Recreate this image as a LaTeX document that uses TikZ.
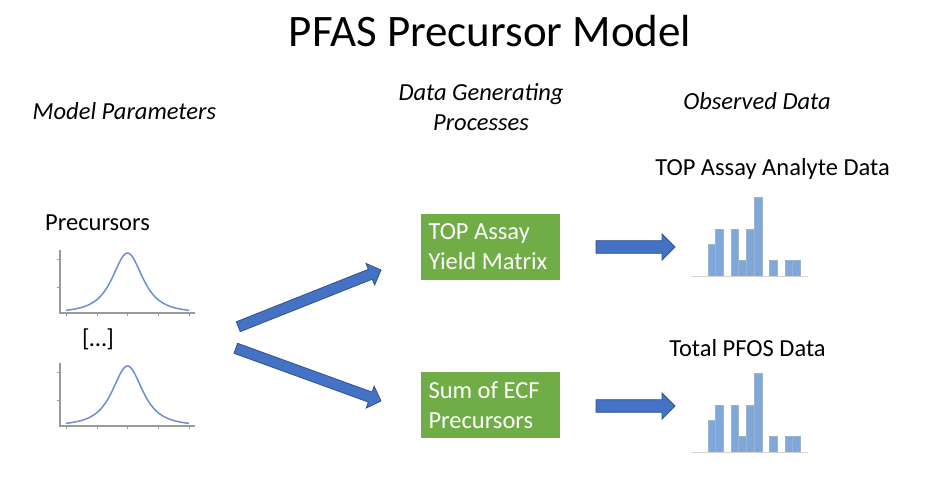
\documentclass[tikz,border=0pt]{standalone}
\usepackage{fontspec}
\setmainfont{Carlito}
\usetikzlibrary{calc}
\definecolor{gfill}{HTML}{70AD47}
\definecolor{abl}{HTML}{4472C4}
\definecolor{aline}{HTML}{2F528F}
\definecolor{curvec}{HTML}{6B8FCF}
\definecolor{axisg}{HTML}{9A9A9A}
\definecolor{barf}{HTML}{7EA7DB}
\definecolor{barl}{HTML}{9FB2CC}
\definecolor{basel}{HTML}{D4D4D4}
\newcommand\txtA{\fontsize{24.5}{30}\selectfont}
\newcommand\blockarrow[5]{%
  \coordinate (#1-#2-h) at ($(#2)!#5!(#1)$);
  \draw[arrowshape] ($(#1)!#3!90:(#2)$) -- ($(#1-#2-h)!#3!90:(#2)$) -- ($(#1-#2-h)!#4!90:(#2)$) -- (#2) -- ($(#1-#2-h)!#4!-90:(#2)$) -- ($(#1-#2-h)!#3!-90:(#2)$) -- ($(#1)!#3!-90:(#2)$) -- cycle;}
\tikzset{
  arrowshape/.style={draw=aline, line width=0.8pt, fill=abl, line join=miter},
  lbl/.style={inner sep=0pt, font=\txtA},
  gbox/.style={fill=gfill, minimum width=139pt, minimum height=66pt, inner sep=0pt},
  gtext/.style={text=white, font=\txtA, inner sep=0pt, align=left, anchor=west},
  axisline/.style={draw=axisg, line width=1.1pt},
  tickline/.style={draw=axisg, line width=0.8pt},
  curveline/.style={draw=curvec, line width=1.5pt},
  barbox/.style={fill=barf, draw=barl, line width=0.6pt},
  barbase/.style={draw=basel, line width=1pt}
}
\begin{document}
\begin{tikzpicture}[x=1pt, y=-1pt]
\useasboundingbox[fill=white] (0,0) rectangle (925,500);

% titles
\node[inner sep=0pt, font=\fontsize{45}{54}\selectfont, anchor=base] (title) at (490,47) {PFAS Precursor Model};
\node[lbl, font=\txtA\itshape, anchor=base west] (mp) at (32.5,119) {Model Parameters};
\node[lbl, font=\txtA\itshape, anchor=base] (dg1) at (481,100.5) {Data Generating};
\node[lbl, font=\txtA\itshape, anchor=base] (dg2) at (481,130.5) {Processes};
\node[lbl, font=\txtA\itshape, anchor=base] (od) at (757,110) {Observed Data};

% left side
\node[lbl, anchor=base west] (prec) at (45,230) {Precursors};
\node[lbl, anchor=center] (dots) at (98,339.5) {[…]};

% distribution plots
\foreach \dy in {0,113}{
  \begin{scope}[shift={(0,\dy)}]
    \draw[axisline] (60,250) -- (60,313) -- (195,313);
    \foreach \ty in {259,287} \draw[tickline] (57,\ty) -- (60,\ty);
    \foreach \tx in {66,97,127.5,158,189} \draw[tickline] (\tx,313) -- (\tx,316);
    \draw[curveline] plot[domain=-61.5:61.5, samples=90, smooth] ({\x+127.5},{313-60*(1+\x*\x/544.5)^(-1.5)});
  \end{scope}
}

% green boxes
\node[gbox] (top) at (490.5,247) {};
\node[gtext] (toptxt) at ([xshift=7.5pt]top.west) {TOP Assay\\Yield Matrix};
\node[gbox] (ecf) at (490.5,405) {};
\node[gtext] (ecftxt) at ([xshift=7.5pt]ecf.west) {Sum of ECF\\Precursors};

% arrow coordinates
\coordinate (s1) at (238.3,326.7);
\coordinate (e1) at (381,270);
\coordinate (s2) at (235.8,348.3);
\coordinate (e2) at (381,401);
\coordinate (s3) at (596,247);
\coordinate (e3) at (675,247);
\coordinate (s4) at (596,406);
\coordinate (e4) at (675,406);
\blockarrow{s1}{e1}{5.3pt}{11.6pt}{11.5pt}
\blockarrow{s2}{e2}{5.3pt}{11.6pt}{11.5pt}
\blockarrow{s3}{e3}{6.3pt}{13pt}{13pt}
\blockarrow{s4}{e4}{6.3pt}{13pt}{13pt}

% observed data
\node[lbl, anchor=base] (tad) at (772.5,175) {TOP Assay Analyte Data};
\node[lbl, anchor=base] (tpd) at (747.5,356) {Total PFOS Data};
\foreach \dy in {0,176}{
  \begin{scope}[shift={(0,\dy)}]
    \foreach \i/\h in {2/2,3/3,5/3,6/1,7/3,8/5,10/1,12/1,13/1}
      \draw[barbox] ({692.5+\i*7.7},276) rectangle ({692.5+(\i+1)*7.7},{276-\h*15.7});
    \draw[barbase] (692,276.5) -- (808,276.5);
  \end{scope}
}
\end{tikzpicture}
\end{document}
